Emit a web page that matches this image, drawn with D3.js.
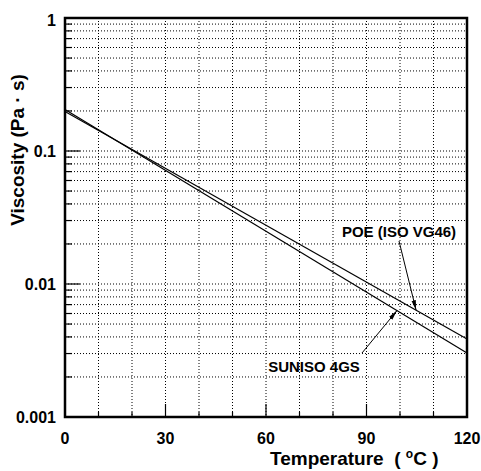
<!DOCTYPE html>
<html><head><meta charset="utf-8">
<script src="https://cdn.jsdelivr.net/npm/d3@7"></script>
<style>body{margin:0;background:#fff}svg{display:block}text{font-family:"Liberation Sans",Arial,sans-serif;font-weight:bold;fill:#000}</style>
</head><body>
<script>
const temps = [0, 120];
const poe = [0.198, 0.00386];
const suniso = [0.205, 0.00303];
const xTickLabels = [0, 30, 60, 90, 120];
const yTickLabels = ["0.001", "0.01", "0.1", "1"];
const yTickValues = [0.001, 0.01, 0.1, 1];
const seriesNames = ["POE (ISO VG46)", "SUNISO 4GS"];

const W = 481, H = 471;
const m = {l: 65, r: 14, t: 18, b: 54};
const svg = d3.select("body").append("svg").attr("width", W).attr("height", H);
const x = d3.scaleLinear().domain([0, 120]).range([m.l, W - m.r]);
const y = d3.scaleLog().domain([0.001, 1]).range([H - m.b, m.t]);

// minor log values
const yMinor = [];
[0.001, 0.01, 0.1].forEach(d => { for (let k = 2; k <= 9; k++) yMinor.push(d * k); });
const yGrid = yMinor.concat([0.01, 0.1]);
const xGrid = d3.range(10, 120, 10);

const g = svg.append("g");
g.selectAll(".hg").data(yGrid).join("line")
  .attr("x1", x(0)).attr("x2", x(120)).attr("y1", d => y(d)).attr("y2", d => y(d))
  .attr("stroke", "#000").attr("stroke-width", 1).attr("stroke-dasharray", "1,2");
g.selectAll(".vg").data(xGrid).join("line")
  .attr("x1", d => x(d)).attr("x2", d => x(d)).attr("y1", y(1)).attr("y2", y(0.001))
  .attr("stroke", "#000").attr("stroke-width", 1).attr("stroke-dasharray", "1,2");

// y ticks inward on left
g.selectAll(".ymin").data(yMinor).join("line")
  .attr("x1", x(0)).attr("x2", x(0) + 7).attr("y1", d => y(d)).attr("y2", d => y(d))
  .attr("stroke", "#000").attr("stroke-width", 1.2);
g.selectAll(".ymaj").data([0.01, 0.1]).join("line")
  .attr("x1", x(0)).attr("x2", x(0) + 15).attr("y1", d => y(d)).attr("y2", d => y(d))
  .attr("stroke", "#000").attr("stroke-width", 1.2);
// x ticks inward on bottom
g.selectAll(".xmin").data(xGrid.filter(d => d % 30 !== 0)).join("line")
  .attr("x1", d => x(d)).attr("x2", d => x(d)).attr("y1", y(0.001)).attr("y2", y(0.001) - 5)
  .attr("stroke", "#000").attr("stroke-width", 1.2);
g.selectAll(".xmaj").data([30, 60, 90]).join("line")
  .attr("x1", d => x(d)).attr("x2", d => x(d)).attr("y1", y(0.001)).attr("y2", y(0.001) - 13)
  .attr("stroke", "#000").attr("stroke-width", 1.2);

// frame
svg.append("rect").attr("x", x(0)).attr("y", y(1)).attr("width", x(120) - x(0)).attr("height", y(0.001) - y(1))
  .attr("fill", "none").attr("stroke", "#000").attr("stroke-width", 2.5);

// tick labels
svg.selectAll(".xl").data(xTickLabels).join("text")
  .attr("x", d => x(d)).attr("y", 444).attr("text-anchor", "middle").attr("font-size", 16).text(d => d);
svg.selectAll(".yl").data(yTickValues).join("text")
  .attr("x", 56).attr("y", (d, i) => y(d) + (i === 3 ? 2 : 0)).attr("dy", "0.36em").attr("text-anchor", "end")
  .attr("font-size", 16).text((d, i) => yTickLabels[i]);

// axis titles
const xt = svg.append("text").attr("x", 270).attr("y", 465).attr("font-size", 19).attr("xml:space", "preserve");
xt.append("tspan").text("Temperature  ( ");
xt.append("tspan").attr("font-size", 12).attr("dy", -7).text("o");
xt.append("tspan").attr("dy", 7).text("C )");
svg.append("text").attr("transform", "translate(24,150) rotate(-90)").attr("text-anchor", "middle")
  .attr("font-size", 19).text("Viscosity (Pa · s)");

// data lines
const line = d3.line().x((d, i) => x(temps[i])).y(d => y(d));
[poe, suniso].forEach(s => {
  svg.append("path").attr("d", line(s)).attr("fill", "none").attr("stroke", "#000").attr("stroke-width", 1.2);
});

// annotations
svg.append("defs").append("marker").attr("id", "ah").attr("viewBox", "0 0 10 6").attr("refX", 10).attr("refY", 3)
  .attr("markerWidth", 10).attr("markerHeight", 6).attr("markerUnits", "userSpaceOnUse").attr("orient", "auto")
  .append("path").attr("d", "M0,0.8L10,3L0,5.2Z").attr("fill", "#000");

function at(s, t) { // value on series at temp t (log-linear between endpoints)
  const f = (t - temps[0]) / (temps[1] - temps[0]);
  return Math.pow(10, Math.log10(s[0]) + f * (Math.log10(s[1]) - Math.log10(s[0])));
}
svg.append("text").attr("x", 399).attr("y", 237).attr("text-anchor", "middle").attr("font-size", 15).text(seriesNames[0]);
svg.append("line").attr("x1", 399).attr("y1", 241).attr("x2", x(104.8)).attr("y2", y(at(poe, 104.8)))
  .attr("stroke", "#000").attr("stroke-width", 1).attr("marker-end", "url(#ah)");
svg.append("text").attr("x", 314).attr("y", 372).attr("text-anchor", "middle").attr("font-size", 15).text(seriesNames[1]);
svg.append("line").attr("x1", 362).attr("y1", 353).attr("x2", x(99.1)).attr("y2", y(at(suniso, 99.1)))
  .attr("stroke", "#000").attr("stroke-width", 1).attr("marker-end", "url(#ah)");
</script>
</body></html>
